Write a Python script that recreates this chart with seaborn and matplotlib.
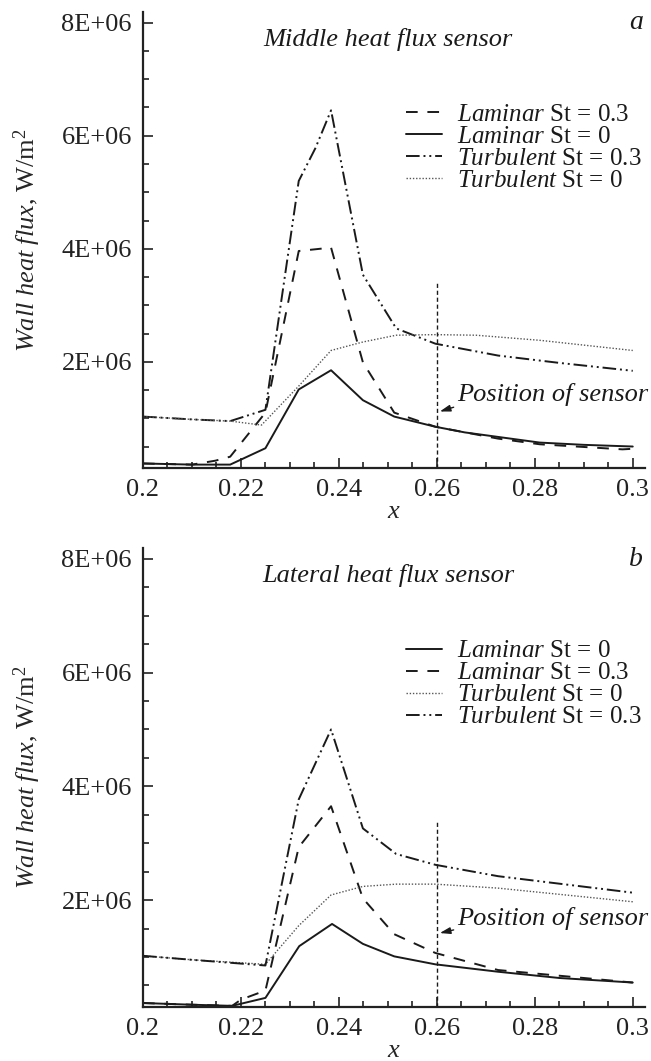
import numpy as np
import pandas as pd
import matplotlib
matplotlib.use("Agg")
import matplotlib.pyplot as plt
import seaborn as sns
from matplotlib.ticker import MultipleLocator, FixedLocator, FixedFormatter

# ---------------- data (heat flux in units of 1E+06 W/m^2) ----------------
SCALE = 1e6

# panel a: middle heat flux sensor
a_lam03_x = [0.200, 0.210, 0.2148, 0.2178, 0.225, 0.2318, 0.2384, 0.2449, 0.2513, 0.2597, 0.2725, 0.281, 0.2979, 0.300]
a_lam03_y = [0.20, 0.18, 0.25, 0.32, 1.10, 3.96, 4.02, 1.99, 1.10, 0.85, 0.64, 0.54, 0.45, 0.46]
a_lam0_x = [0.200, 0.210, 0.2178, 0.225, 0.2318, 0.2384, 0.2449, 0.2513, 0.2597, 0.2657, 0.2725, 0.281, 0.290, 0.300]
a_lam0_y = [0.20, 0.18, 0.18, 0.47, 1.51, 1.85, 1.32, 1.03, 0.85, 0.75, 0.67, 0.57, 0.53, 0.50]
a_tur03_x = [0.200, 0.210, 0.2178, 0.225, 0.2318, 0.2352, 0.2384, 0.2449, 0.2517, 0.2597, 0.2725, 0.285, 0.300]
a_tur03_y = [1.03, 0.98, 0.95, 1.15, 5.20, 5.78, 6.45, 3.54, 2.59, 2.32, 2.11, 1.98, 1.84]
a_tur0_x = [0.200, 0.210, 0.2178, 0.2242, 0.2318, 0.2384, 0.2449, 0.2517, 0.2597, 0.2680, 0.281, 0.300]
a_tur0_y = [1.03, 0.98, 0.95, 0.88, 1.57, 2.20, 2.35, 2.47, 2.48, 2.47, 2.38, 2.20]

# panel b: lateral heat flux sensor
b_lam0_x = [0.200, 0.210, 0.2182, 0.225, 0.2319, 0.2386, 0.2449, 0.2513, 0.2597, 0.2725, 0.285, 0.300]
b_lam0_y = [0.19, 0.16, 0.14, 0.28, 1.19, 1.58, 1.23, 1.01, 0.87, 0.74, 0.63, 0.55]
b_lam03_x = [0.200, 0.210, 0.2182, 0.220, 0.225, 0.2318, 0.2384, 0.2449, 0.2513, 0.2597, 0.2725, 0.300]
b_lam03_y = [0.19, 0.16, 0.14, 0.25, 0.41, 2.93, 3.65, 2.03, 1.40, 1.07, 0.77, 0.55]
b_tur0_x = [0.200, 0.210, 0.225, 0.2318, 0.2384, 0.2449, 0.2517, 0.2597, 0.2725, 0.300]
b_tur0_y = [1.02, 0.95, 0.87, 1.55, 2.09, 2.24, 2.28, 2.28, 2.21, 1.97]
b_tur03_x = [0.200, 0.210, 0.225, 0.2318, 0.2384, 0.2449, 0.2517, 0.2597, 0.2725, 0.300]
b_tur03_y = [1.02, 0.95, 0.85, 3.77, 5.00, 3.26, 2.81, 2.62, 2.42, 2.13]

x_ticks = [0.20, 0.22, 0.24, 0.26, 0.28, 0.30]
x_ticklabels = ["0.2", "0.22", "0.24", "0.26", "0.28", "0.3"]
y_ticks = [2, 4, 6, 8]
y_ticklabels = ["2E+06", "4E+06", "6E+06", "8E+06"]

sensor_x = 0.26
sensor_top = [3.39, 3.38]
sensor_text_xy = [(0.2641, 1.42), (0.2641, 1.68)]
sensor_arrow_xy = [(0.2606, 1.12), (0.2606, 1.42)]

panel_titles = ["Middle heat flux sensor", "Lateral heat flux sensor"]
panel_letters = ["a", "b"]

LBL_LAM03 = r"$\mathit{Laminar}$ St = 0.3"
LBL_LAM0 = r"$\mathit{Laminar}$ St = 0"
LBL_TUR03 = r"$\mathit{Turbulent}$ St = 0.3"
LBL_TUR0 = r"$\mathit{Turbulent}$ St = 0"

panels = [
    [(LBL_LAM03, a_lam03_x, a_lam03_y), (LBL_LAM0, a_lam0_x, a_lam0_y),
     (LBL_TUR03, a_tur03_x, a_tur03_y), (LBL_TUR0, a_tur0_x, a_tur0_y)],
    [(LBL_LAM0, b_lam0_x, b_lam0_y), (LBL_LAM03, b_lam03_x, b_lam03_y),
     (LBL_TUR0, b_tur0_x, b_tur0_y), (LBL_TUR03, b_tur03_x, b_tur03_y)],
]

# ---------------- styling ----------------
sns.set_theme(style="ticks")
plt.rcParams.update({
    "font.family": ["Liberation Serif", "DejaVu Serif"],
    "mathtext.fontset": "custom",
    "mathtext.rm": "Liberation Serif",
    "mathtext.it": "Liberation Serif:italic",
    "mathtext.bf": "Liberation Serif:bold",
    "axes.linewidth": 1.6,
    "axes.edgecolor": "#222222",
    "text.color": "#1a1a1a",
    "xtick.color": "#222222",
    "ytick.color": "#222222",
})

INK = "#1a1a1a"
styles = {
    LBL_LAM03: dict(color=INK, lw=1.4, linestyle=(0, (6, 5))),
    LBL_LAM0: dict(color=INK, lw=1.4, linestyle="-"),
    LBL_TUR03: dict(color=INK, lw=1.4, linestyle=(0, (7, 2, 1, 2, 1, 2))),
    LBL_TUR0: dict(color="#555555", lw=1.0, linestyle=(0, (1, 1.3))),
}

fig = plt.figure(figsize=(6.51, 10.61), dpi=100)
axes_rects = [
    [143 / 651, 1 - 468 / 1061, 502 / 651, 456 / 1061],
    [143 / 651, 1 - 1007 / 1061, 502 / 651, 459 / 1061],
]

YMIN, YMAX = 0.12, 8.19
XMIN, XMAX = 0.2, 0.3025

for i, rect in enumerate(axes_rects):
    ax = fig.add_axes(rect)
    handles = []
    for label, xs, ys in panels[i]:
        df = pd.DataFrame({"x": xs, "q": np.array(ys) * SCALE})
        n0 = len(ax.lines)
        sns.lineplot(data=df, x="x", y="q", ax=ax, sort=False, estimator=None,
                     legend=False, **styles[label])
        ln = ax.lines[n0]
        ln.set_label(label)
        handles.append(ln)

    # sensor position
    ax.vlines(sensor_x, YMIN * SCALE, sensor_top[i] * SCALE, colors=INK,
              linewidth=1.0, linestyles=(0, (3, 2)))
    tx, ty = sensor_text_xy[i]
    axx, axy = sensor_arrow_xy[i]
    ax.annotate("Position of sensor", xy=(axx, axy * SCALE), xytext=(tx, ty * SCALE),
                ha="left", va="center", fontsize=19, style="italic", color=INK,
                arrowprops=dict(arrowstyle="-|>,head_length=0.7,head_width=0.22",
                                mutation_scale=9, color=INK, lw=1.0,
                                relpos=(0.05, 0.12), shrinkA=0, shrinkB=0))

    ax.set_xlim(XMIN, XMAX)
    ax.set_ylim(YMIN * SCALE, YMAX * SCALE)
    ax.xaxis.set_major_locator(FixedLocator(x_ticks))
    ax.xaxis.set_major_formatter(FixedFormatter(x_ticklabels))
    ax.xaxis.set_minor_locator(MultipleLocator(0.005))
    ax.yaxis.set_major_locator(FixedLocator([v * SCALE for v in y_ticks]))
    ax.yaxis.set_major_formatter(FixedFormatter(y_ticklabels))
    ax.yaxis.set_minor_locator(MultipleLocator(0.5 * SCALE))
    ax.tick_params(which="both", direction="in", top=False, right=False, width=1.2)
    ax.tick_params(which="major", length=7, labelsize=19, pad=8)
    ax.tick_params(which="minor", length=4.5)
    sns.despine(ax=ax)

    ax.set_xlabel("$x$", fontsize=19, labelpad=0)
    ax.set_ylabel(r"$\mathit{Wall\ heat\ flux}$, W/m$^2$", fontsize=19)
    ax.yaxis.set_label_coords(-0.2, 0.5)

    ax.text(0.488, 0.939, panel_titles[i], transform=ax.transAxes, ha="center",
            va="center", fontsize=19, style="italic", color=INK)
    ax.text(0.982, 0.976, panel_letters[i], transform=ax.transAxes, ha="center",
            va="center", fontsize=20, style="italic", color=INK)

    ax.legend(handles=handles, labels=[h.get_label() for h in handles],
              loc="upper left", bbox_to_anchor=(0.524, 0.80), frameon=False,
              fontsize=18, handlelength=1.45, handletextpad=0.6, labelspacing=-0.02,
              borderpad=0, borderaxespad=0)

fig.savefig("out.png", dpi=100)
